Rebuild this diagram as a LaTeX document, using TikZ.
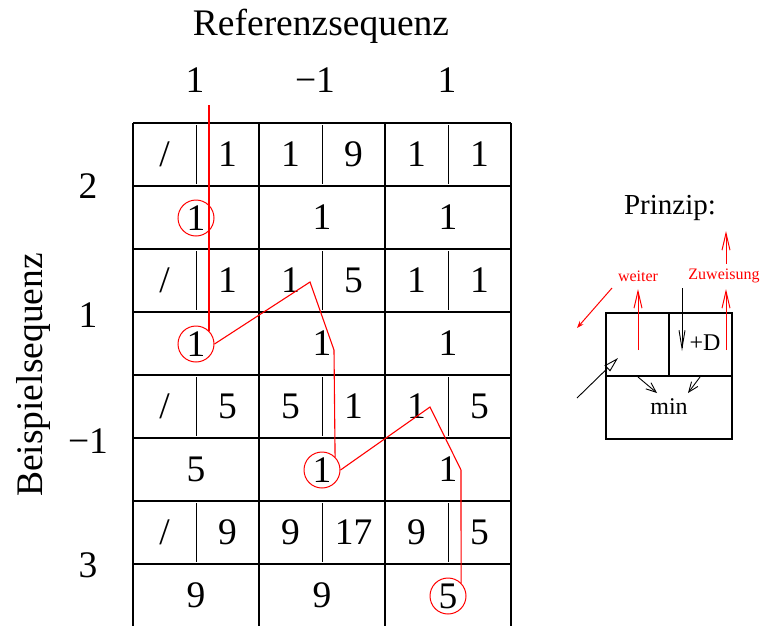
\documentclass[tikz,border=0pt]{standalone}
\usepackage{fontspec}
\setmainfont{Liberation Serif}
\usetikzlibrary{arrows.meta}
\begin{document}
\begin{tikzpicture}[x=1pt,y=-1pt,
  big/.style={font=\fontsize{37.5}{40}\selectfont, inner sep=0pt},
  mid/.style={font=\fontsize{24}{28}\selectfont, inner sep=0pt},
  small/.style={font=\fontsize{16}{18}\selectfont, inner sep=0pt, text=red},
  gridline/.style={line width=1.2pt, black},
  redline/.style={draw=red, line width=1.1pt},
  hit/.style={circle, draw=red, line width=1pt, minimum size=36pt, inner sep=0pt},
  rarrow/.style={draw=red, line width=1pt, -{Straight Barb[length=17pt,width=8pt]}},
  barrow/.style={black, line width=0.9pt, -{Straight Barb[length=10pt,width=8pt]}}
]
\useasboundingbox (0,0) rectangle (760,625);

% ---- headings
\node[big, anchor=base] (ref) at (321,35) {Referenzsequenz};
\node[big, anchor=base] (h1) at (195,92) {1};
\node[big, anchor=base] (h2) at (315,92) {−1};
\node[big, anchor=base] (h3) at (447,92) {1};
\node[big, anchor=base, rotate=90] (bsp) at (42,375) {Beispielsequenz};
\node[big, anchor=base] (v1) at (88,198) {2};
\node[big, anchor=base] (v2) at (88,327) {1};
\node[big, anchor=base] (v3) at (88,453) {−1};
\node[big, anchor=base] (v4) at (88,577) {3};

% ---- grid
\foreach \y in {123,186,249,312,375,438,501,564}
  \draw[gridline] (133,\y) -- (511,\y);
\foreach \x in {133,259,385,511}
  \draw[gridline] (\x,123) -- (\x,627);
\foreach \y in {123,249,375,501}
  \foreach \x in {196,322,448}
    \draw[line width=0.9pt] (\x,\y+2) -- (\x,\y+61);

% ---- grid values, top rows
\node[big] (a11) at (164.5,154.5) {/};
\node[big] (a12) at (227.5,154.5) {1};
\node[big] (a13) at (290.5,154.5) {1};
\node[big] (a14) at (353.5,154.5) {9};
\node[big] (a15) at (416.5,154.5) {1};
\node[big] (a16) at (479.5,154.5) {1};

\node[big] (a21) at (164.5,280.5) {/};
\node[big] (a22) at (227.5,280.5) {1};
\node[big] (a23) at (290.5,280.5) {1};
\node[big] (a24) at (353.5,280.5) {5};
\node[big] (a25) at (416.5,280.5) {1};
\node[big] (a26) at (479.5,280.5) {1};

\node[big] (a31) at (164.5,406.5) {/};
\node[big] (a32) at (227.5,406.5) {5};
\node[big] (a33) at (290.5,406.5) {5};
\node[big] (a34) at (353.5,406.5) {1};
\node[big] (a35) at (416.5,406.5) {1};
\node[big] (a36) at (479.5,406.5) {5};

\node[big] (a41) at (164.5,532.5) {/};
\node[big] (a42) at (227.5,532.5) {9};
\node[big] (a43) at (290.5,532.5) {9};
\node[big] (a44) at (353.5,532.5) {17};
\node[big] (a45) at (416.5,532.5) {9};
\node[big] (a46) at (479.5,532.5) {5};

% ---- grid values, bottom rows
\node[big, hit] (c1) at (196,218) {1};
\node[big] (b12) at (322,217.5) {1};
\node[big] (b13) at (448,217.5) {1};

\node[big, hit] (c2) at (196,344) {1};
\node[big] (b22) at (322,343.5) {1};
\node[big] (b23) at (448,343.5) {1};

\node[big] (b31) at (196,469.5) {5};
\node[big, hit] (c3) at (322,470) {1};
\node[big] (b33) at (448,469.5) {1};

\node[big] (b41) at (196,595.5) {9};
\node[big] (b42) at (322,595.5) {9};
\node[big, hit] (c4) at (448,596) {5};

% ---- red path
\coordinate (s0) at (209,105);
\coordinate (s1) at (209,331);
\coordinate (p1) at (310,282);
\coordinate (p2) at (334,350);
\coordinate (p3) at (430,407);
\coordinate (p4) at (461,470);
\draw[redline] (s0) -- (s1);
\draw[redline] (c2.east) -- (p1) -- (p2) -- (c3.north east);
\draw[redline] (c3.east) -- (p3) -- (p4) -- (c4.north east);

% ---- Prinzip
\node[font=\fontsize{29}{32}\selectfont, inner sep=0pt] (prinzip) at (670,208) {Prinzip:};
\draw[line width=1.1pt] (606,313) rectangle (732,439);
\draw[line width=1.1pt] (606,376) -- (732,376);
\draw[line width=1.1pt] (669,313) -- (669,376);
\node[mid] (plusd) at (705,343) {+D};
\node[mid] (min) at (669,407) {min};
\node[small] (weiter) at (638,276) {weiter};
\node[small] (zuw) at (724,276) {Zuweisung};

\coordinate (w1) at (638,350);
\coordinate (w2) at (638,289);
\coordinate (z1) at (726,350);
\coordinate (z2) at (726,289);
\coordinate (z3) at (726,264);
\coordinate (z4) at (726,231);
\coordinate (d1) at (612,288);
\coordinate (d2) at (577,328);
\draw[rarrow] (w1) -- (w2);
\draw[rarrow] (z1) -- (z2);
\draw[rarrow] (z3) -- (z4);
\draw[draw=red, line width=1pt, -{Stealth[length=7pt,width=5pt]}] (d1) -- (d2);

\coordinate (k1) at (682,288);
\coordinate (k2) at (682,351);
\draw[black, line width=0.9pt, -{Straight Barb[length=18pt,width=6pt]}] (k1) -- (k2);
\coordinate (m1) at (638,377);
\coordinate (m2) at (657,393);
\coordinate (m3) at (700,377);
\coordinate (m4) at (688,393);
\draw[barrow] (m1) -- (m2);
\draw[barrow] (m3) -- (m4);
\coordinate (e1) at (577,398);
\coordinate (e2) at (618,358);
\draw[black, line width=0.9pt, -{Triangle[open,length=15pt,width=8pt]}] (e1) -- (e2);
\end{tikzpicture}
\end{document}
